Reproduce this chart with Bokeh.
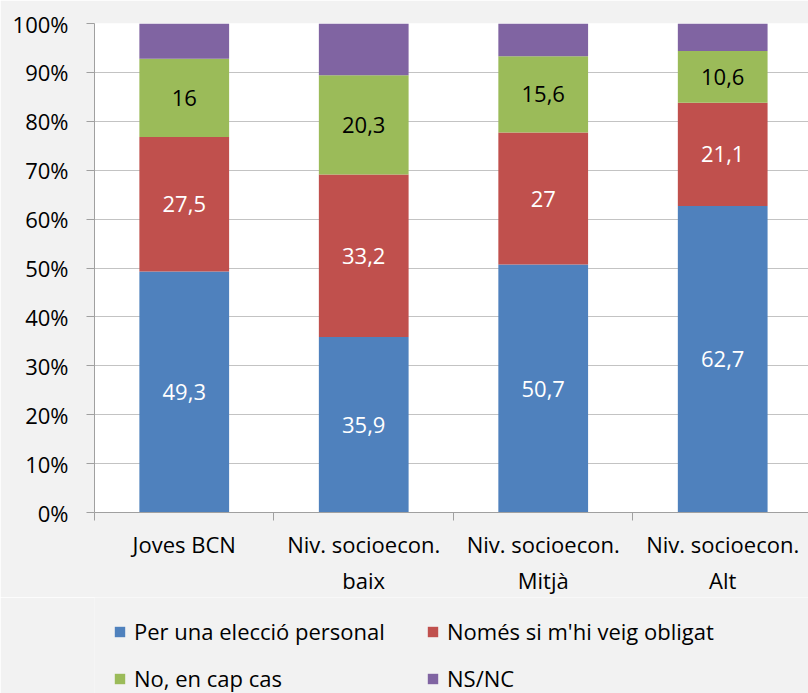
from bokeh.plotting import figure
from bokeh.layouts import column
from bokeh.models import ColumnDataSource, FixedTicker, Range1d, Legend, LegendItem
from bokeh.embed import file_html
from bokeh.resources import INLINE
from bokeh.core.properties import value

categories = ["Joves BCN", "Niv. socioecon.\nbaix", "Niv. socioecon.\nMitjà", "Niv. socioecon.\nAlt"]
series_names = ["Per una elecció personal", "Només si m'hi veig obligat", "No, en cap cas", "NS/NC"]
eleccio = [49.3, 35.9, 50.7, 62.7]
obligat = [27.5, 33.2, 27.0, 21.1]
cap_cas = [16.0, 20.3, 15.6, 10.6]
nsnc = [7.2, 10.6, 6.7, 5.6]
y_ticks = [0, 10, 20, 30, 40, 50, 60, 70, 80, 90, 100]
y_tick_labels = ["0%", "10%", "20%", "30%", "40%", "50%", "60%", "70%", "80%", "90%", "100%"]

colors = ["#4f81bd", "#c0504d", "#9bbb59", "#8064a2"]
label_colors = ["white", "white", "black"]
FONT = "Open Sans"
FS = "22px"
BG = "#f2f2f2"

xs = list(range(len(categories)))
series = [eleccio, obligat, cap_cas, nsnc]
keys = ["s0", "s1", "s2", "s3"]
data = {"x": xs}
for k, s in zip(keys, series):
    data[k] = s
source = ColumnDataSource(data)

p = figure(frame_width=714, frame_height=489, output_backend="svg", toolbar_location=None,
           x_range=Range1d(-0.5, 3.478), y_range=Range1d(0, 100),
           min_border_left=94, min_border_right=0, min_border_top=23, min_border_bottom=0)
p.background_fill_color = "white"
p.border_fill_color = BG
p.outline_line_color = None

p.vbar_stack(keys, x="x", width=0.5, source=source, color=colors, line_color=None)

# value labels
bottoms = [0.0] * len(xs)
for si in range(3):
    vals = series[si]
    mids = [b + v / 2 for b, v in zip(bottoms, vals)]
    texts = [f"{v:g}".replace(".", ",") for v in vals]
    p.text(x=xs, y=mids, text=texts, text_align="center", text_baseline="middle",
           text_color=label_colors[si], text_font=value(FONT), text_font_size=value(FS))
    bottoms = [b + v for b, v in zip(bottoms, vals)]

axis_col = "#a0a0a0"
# y axis
p.yaxis.ticker = FixedTicker(ticks=y_ticks)
p.yaxis.major_label_overrides = {t: l for t, l in zip(y_ticks, y_tick_labels)}
p.yaxis.major_tick_out = 8
p.yaxis.major_tick_in = 0
p.yaxis.minor_tick_line_color = None
p.yaxis.axis_line_color = axis_col
p.yaxis.major_tick_line_color = axis_col
p.yaxis.major_label_standoff = 18
p.yaxis.major_label_text_font = FONT
p.yaxis.major_label_text_font_size = FS
p.yaxis.major_label_text_color = "black"

# x axis
p.xaxis.ticker = FixedTicker(ticks=xs, minor_ticks=[-0.5, 0.5, 1.5, 2.5, 3.5])
p.xaxis.major_label_overrides = {x: c for x, c in zip(xs, categories)}
p.xaxis.major_tick_out = 0
p.xaxis.major_tick_in = 0
p.xaxis.minor_tick_out = 8
p.xaxis.minor_tick_in = 0
p.xaxis.minor_tick_line_color = axis_col
p.xaxis.axis_line_color = axis_col
p.xaxis.major_label_standoff = 8
p.xaxis.major_label_text_font = FONT
p.xaxis.major_label_text_font_size = FS
p.xaxis.major_label_text_color = "black"
p.xaxis.major_label_text_line_height = 1.2

p.xgrid.visible = False
p.ygrid.grid_line_color = "#c3c3c3"

# legend panel (separate figure below the chart)
pl = figure(width=808, height=96, output_backend="svg", toolbar_location=None,
            x_range=Range1d(100, 101), y_range=Range1d(200, 300),
            min_border=0, min_border_left=0, min_border_right=0, min_border_top=0, min_border_bottom=0)
pl.axis.visible = False
pl.grid.visible = False
pl.background_fill_color = BG
pl.border_fill_color = BG
pl.outline_line_color = None
leg_renderers = pl.vbar_stack(keys, x="x", width=0.5, source=source, color=colors, line_color=None)

items = [LegendItem(label=n, renderers=[r]) for n, r in zip(series_names, leg_renderers)]
legend = Legend(items=items, orientation="horizontal", nrows=2, location=(19, 0),
                background_fill_alpha=0, border_line_color=None,
                label_text_font=FONT, label_text_font_size=FS, label_text_color="black",
                glyph_width=13, glyph_height=13, label_standoff=8, spacing=17,
                label_height=30, label_width=275, padding=0, margin=0)
pl.add_layout(legend, "center")

layout = column(p, pl, spacing=0)
open("out.html", "w").write(file_html(layout, INLINE))
